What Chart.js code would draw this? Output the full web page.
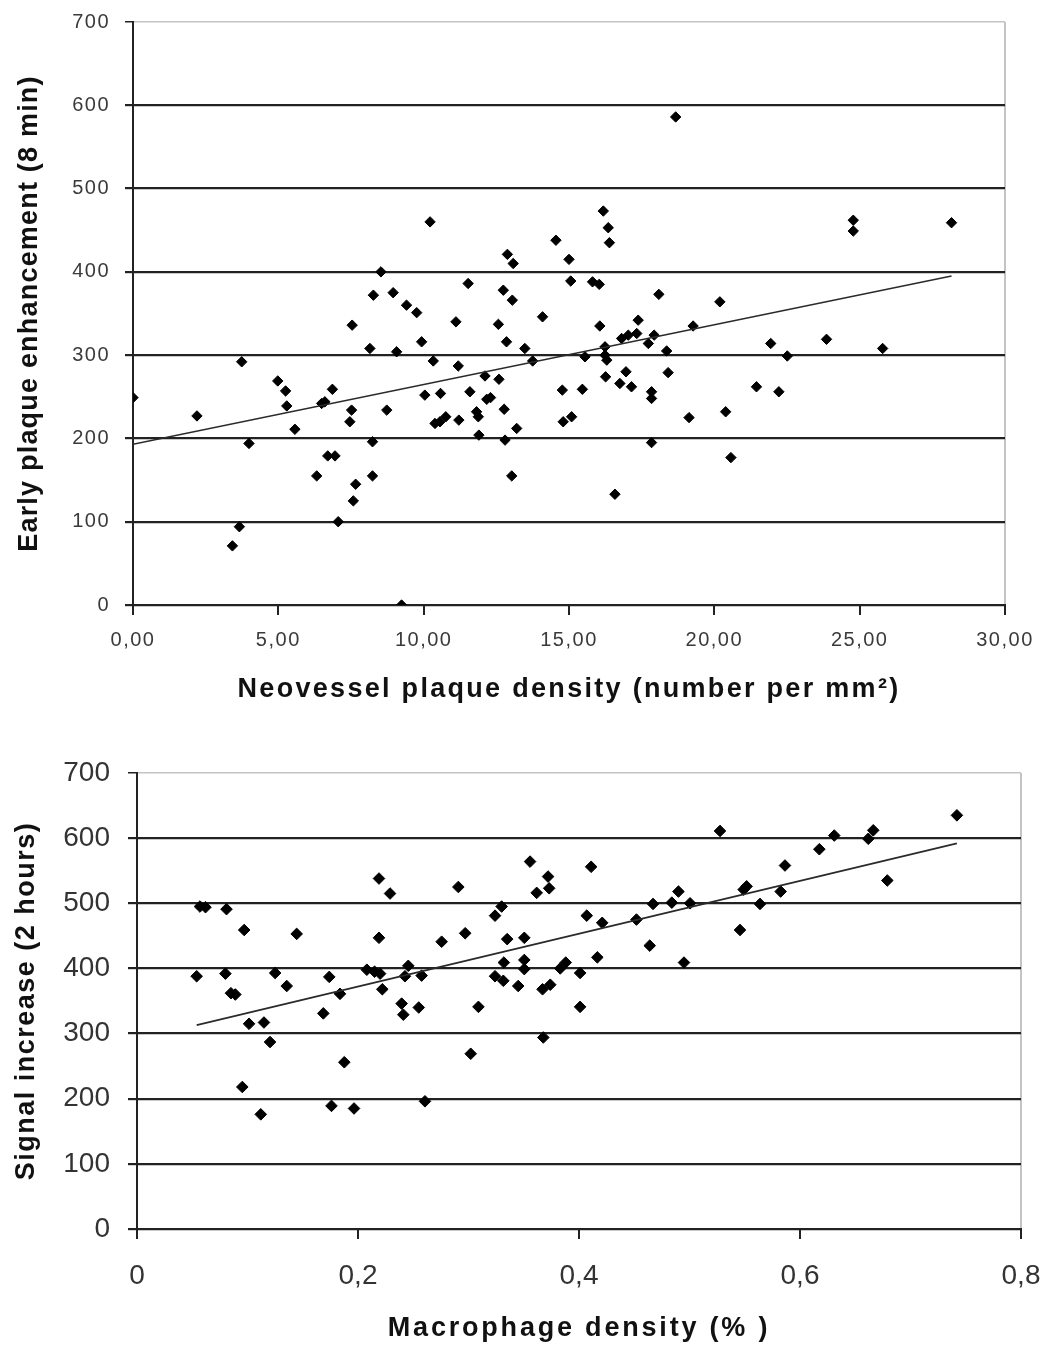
<!DOCTYPE html>
<html>
<head>
<meta charset="utf-8">
<script src="https://cdn.jsdelivr.net/npm/chart.js@4.4.1/dist/chart.umd.min.js"></script>
<style>
  html, body { margin: 0; padding: 0; background: #fff; }
  body { width: 1045px; height: 1345px; position: relative; overflow: hidden; }
  canvas { position: absolute; left: 0; }
  #c1 { top: 0; }
  #c2 { top: 740px; }
</style>
</head>
<body>
<canvas id="c1" width="1045" height="715"></canvas>
<canvas id="c2" width="1045" height="605"></canvas>
<script>
// ---------- Chart 1 data: neovessel density vs early enhancement ----------
const neovesselDensity = [
  0.0, 2.2, 3.42, 3.66, 3.74, 3.99, 4.98, 5.25, 5.29, 5.57,
  6.32, 6.49, 6.6, 6.7, 6.95, 6.86, 7.06, 7.54, 7.52, 7.46,
  7.66, 7.58, 8.15, 8.24, 8.24, 8.27, 8.53, 8.73, 8.95, 9.07,
  9.24, 9.41, 9.76, 9.93, 10.04, 10.22, 10.33, 10.39, 10.56, 10.58,
  10.76, 11.11, 11.19, 11.21, 11.53, 11.59, 11.82, 11.88, 11.9, 12.11,
  12.17, 12.30, 12.57, 12.59, 12.74, 12.77, 12.80, 12.85, 12.88, 13.03,
  13.05, 13.08, 13.2, 13.48, 13.75, 14.09, 14.55, 14.77, 14.8, 15.0,
  15.06, 15.09, 15.46, 15.55, 15.81, 16.04, 16.06, 16.18, 16.24, 16.24,
  16.3, 16.26, 16.35, 16.39, 16.58, 16.75, 16.81, 16.96, 17.04, 17.15,
  17.33, 17.38, 17.73, 17.84, 17.84, 17.84, 17.93, 18.09, 18.36, 18.41,
  18.67, 19.13, 19.27, 20.19, 20.39, 20.57, 21.45, 21.94, 22.22, 22.51,
  23.86, 24.78, 24.78, 25.79, 28.16
];
const earlyEnhancement = [
  249, 227, 71, 94, 292, 194, 269, 257, 239, 211,
  155, 242, 244, 179, 179, 259, 100, 336, 234, 220,
  145, 125, 308, 196, 155, 372, 400, 234, 375, 304,
  0, 360, 351, 316, 252, 460, 293, 218, 220, 254,
  226, 340, 287, 222, 386, 256, 232, 226, 204, 275,
  247, 249, 337, 271, 378, 235, 198, 316, 421, 155,
  366, 410, 212, 308, 293, 346, 438, 258, 220, 415,
  389, 226, 259, 298, 388, 385, 335, 473, 310, 300,
  294, 274, 453, 435, 133, 266, 320, 280, 324, 262,
  326, 342, 314, 256, 248, 195, 324, 373, 305, 279,
  586, 225, 335, 364, 232, 177, 262, 314, 256, 299,
  319, 462, 449, 308, 459
];
const trend1X = [0, 28.16];
const trend1Y = [193, 395];
const xTicks1 = ['0,00', '5,00', '10,00', '15,00', '20,00', '25,00', '30,00'];
const yTicks1 = ['0', '100', '200', '300', '400', '500', '600', '700'];

// ---------- Chart 2 data: macrophage density vs signal increase ----------
const macrophageDensity = [
  0.054, 0.057, 0.062, 0.080, 0.081, 0.085, 0.089, 0.0953, 0.097, 0.1014,
  0.112, 0.1149, 0.1204, 0.125, 0.1355, 0.1445, 0.1686, 0.174, 0.176, 0.1837,
  0.1876, 0.1964, 0.208, 0.215, 0.22, 0.219, 0.219, 0.222, 0.229, 0.2395,
  0.241, 0.2425, 0.2455, 0.255, 0.2576, 0.2606, 0.2757, 0.2908, 0.297, 0.302,
  0.309, 0.324, 0.324, 0.330, 0.3315, 0.332, 0.335, 0.345, 0.3505, 0.3505,
  0.3505, 0.3557, 0.3617, 0.367, 0.3677, 0.372, 0.373, 0.374, 0.383, 0.388,
  0.401, 0.401, 0.407, 0.411, 0.4166, 0.421, 0.452, 0.464, 0.467, 0.484,
  0.490, 0.495, 0.5005, 0.5276, 0.5457, 0.549, 0.5517, 0.5638, 0.5825, 0.5864,
  0.6175, 0.631, 0.6618, 0.6663, 0.679, 0.742
];
const signalIncrease = [
  388, 495, 494, 392, 491, 362, 360, 218, 459, 315,
  176, 317, 287, 393, 373, 453, 331, 387, 189, 361,
  256, 185, 398, 395, 392, 538, 447, 368, 515, 346,
  329, 388, 404, 340, 389, 196, 441, 525, 454, 269,
  341, 481, 388, 495, 381, 409, 445, 373, 447, 413,
  399, 564, 516, 368, 294, 541, 523, 375, 400, 409,
  393, 341, 481, 556, 417, 470, 475, 435, 499, 501,
  518, 409, 500, 611, 459, 521, 526, 499, 518, 558,
  583, 604, 599, 612, 535, 635
];
const trend2X = [0.054, 0.742];
const trend2Y = [313, 592];
const xTicks2 = ['0', '0,2', '0,4', '0,6', '0,8'];
const yTicks2 = ['0', '100', '200', '300', '400', '500', '600', '700'];

// ---------- helpers ----------
const toPoints = (xs, ys) => xs.map((x, i) => ({ x: x, y: ys[i] }));
const FONT = "'Liberation Sans', Arial, 'DejaVu Sans', sans-serif";

function spacingPlugin(map) {
  return {
    id: 'letterSpacingPlugin',
    beforeDraw(chart) {
      Object.keys(chart.scales).forEach(id => {
        const s = chart.scales[id];
        const cfg = map[id];
        if (!cfg || s._lsWrapped) return;
        s._lsWrapped = true;
        const dt = s.drawTitle, dl = s.drawLabels;
        s.drawTitle = function (...a) {
          const c = this.ctx, p = c.letterSpacing;
          c.letterSpacing = (cfg.title || 0) + 'px';
          dt.apply(this, a);
          c.letterSpacing = p || '0px';
        };
        s.drawLabels = function (...a) {
          const c = this.ctx, p = c.letterSpacing;
          c.letterSpacing = (cfg.ticks || 0) + 'px';
          dl.apply(this, a);
          c.letterSpacing = p || '0px';
        };
      });
    }
  };
}

function makeChart(canvasId, o) {
  const lastX = o.xTickLabels.length - 1;
  const lastY = o.yTickLabels.length - 1;
  return new Chart(document.getElementById(canvasId), {
    type: 'scatter',
    data: {
      datasets: [
        {
          type: 'line',
          data: toPoints(o.trendX, o.trendY),
          borderColor: '#2a2a2a',
          borderWidth: 1.6,
          pointRadius: 0,
          fill: false,
          order: 0
        },
        {
          data: toPoints(o.xs, o.ys),
          pointStyle: 'rectRot',
          pointRadius: o.pointRadius,
          backgroundColor: '#000',
          borderColor: '#000',
          borderWidth: 1,
          order: 1
        }
      ]
    },
    options: {
      responsive: false,
      animation: false,
      events: [],
      layout: { padding: o.padding },
      plugins: { legend: { display: false }, tooltip: { enabled: false } },
      scales: {
        x: {
          type: 'linear',
          min: o.xMin, max: o.xMax,
          afterFit: s => { s.height = o.xAxisHeight; s.paddingLeft = 0; s.paddingRight = 0; },
          afterBuildTicks: s => { s.ticks = o.xTickLabels.map((_, i) => ({ value: o.xMin + i * o.xStep })); },
          ticks: {
            callback: (v, i) => o.xTickLabels[i],
            color: o.tickColor,
            font: { family: FONT, size: o.tickSize },
            padding: o.xTickPadding,
            maxRotation: 0,
            autoSkip: false
          },
          grid: {
            color: c => (c.index === lastX ? '#c4c4c4' : 'rgba(0,0,0,0)'),
            lineWidth: 2,
            tickColor: '#222',
            tickLength: o.xTickLength,
            drawTicks: true
          },
          border: { display: true, color: '#222', width: 2 },
          title: {
            display: true,
            text: o.xTitle,
            color: '#111',
            font: { family: FONT, size: o.titleSize, weight: 'bold' },
            padding: { top: 0, bottom: o.xTitlePad }
          }
        },
        y: {
          type: 'linear',
          min: 0, max: 700,
          afterFit: s => { s.width = o.yAxisWidth; s.paddingTop = 0; s.paddingBottom = 0; },
          afterBuildTicks: s => { s.ticks = o.yTickLabels.map((_, i) => ({ value: i * 100 })); },
          ticks: {
            callback: (v, i) => o.yTickLabels[i],
            color: o.tickColor,
            font: { family: FONT, size: o.tickSize },
            padding: o.yTickPadding,
            autoSkip: false
          },
          grid: {
            color: c => (c.index === lastY ? '#c4c4c4' : '#222'),
            lineWidth: c => (c.index === lastY ? 1.5 : 2.2),
            tickColor: '#222',
            tickLength: o.yTickLength,
            drawTicks: true
          },
          border: { display: true, color: '#222', width: 2 },
          title: {
            display: true,
            text: o.yTitle,
            color: '#111',
            font: { family: FONT, size: o.titleSize, weight: 'bold' },
            padding: { top: o.yTitlePad, bottom: 0 }
          }
        }
      }
    },
    plugins: [spacingPlugin({ x: { title: o.xTitleSpacing, ticks: o.tickSpacing }, y: { title: o.yTitleSpacing, ticks: o.tickSpacing } })]
  });
}

makeChart('c1', {
  xs: neovesselDensity, ys: earlyEnhancement,
  trendX: trend1X, trendY: trend1Y,
  xMin: 0, xMax: 30, xStep: 5,
  xTickLabels: xTicks1, yTickLabels: yTicks1,
  padding: { top: 22, right: 40, left: 0, bottom: 0 },
  xAxisHeight: 110, yAxisWidth: 133,
  tickColor: '#3a3a3a', tickSize: 20, tickSpacing: 1.5,
  xTickPadding: 13, yTickPadding: 15, xTickLength: 10, yTickLength: 8,
  titleSize: 27, xTitlePad: 9, yTitlePad: 13,
  xTitleSpacing: 2.3, yTitleSpacing: 1.2,
  xTitle: 'Neovessel plaque density (number per mm²)',
  yTitle: 'Early plaque enhancement (8 min)',
  pointRadius: 5.2
});

makeChart('c2', {
  xs: macrophageDensity, ys: signalIncrease,
  trendX: trend2X, trendY: trend2Y,
  xMin: 0, xMax: 0.8, xStep: 0.2,
  xTickLabels: xTicks2, yTickLabels: yTicks2,
  padding: { top: 33, right: 24, left: 0, bottom: 0 },
  xAxisHeight: 116, yAxisWidth: 137,
  tickColor: '#333', tickSize: 28, tickSpacing: 0,
  xTickPadding: 20, yTickPadding: 18, xTickLength: 10, yTickLength: 9,
  titleSize: 27, xTitlePad: 0, yTitlePad: 10,
  xTitleSpacing: 2.8, yTitleSpacing: 1.5,
  xTitle: 'Macrophage density (% )',
  yTitle: 'Signal increase (2 hours)',
  pointRadius: 5.8
});
</script>
</body>
</html>
